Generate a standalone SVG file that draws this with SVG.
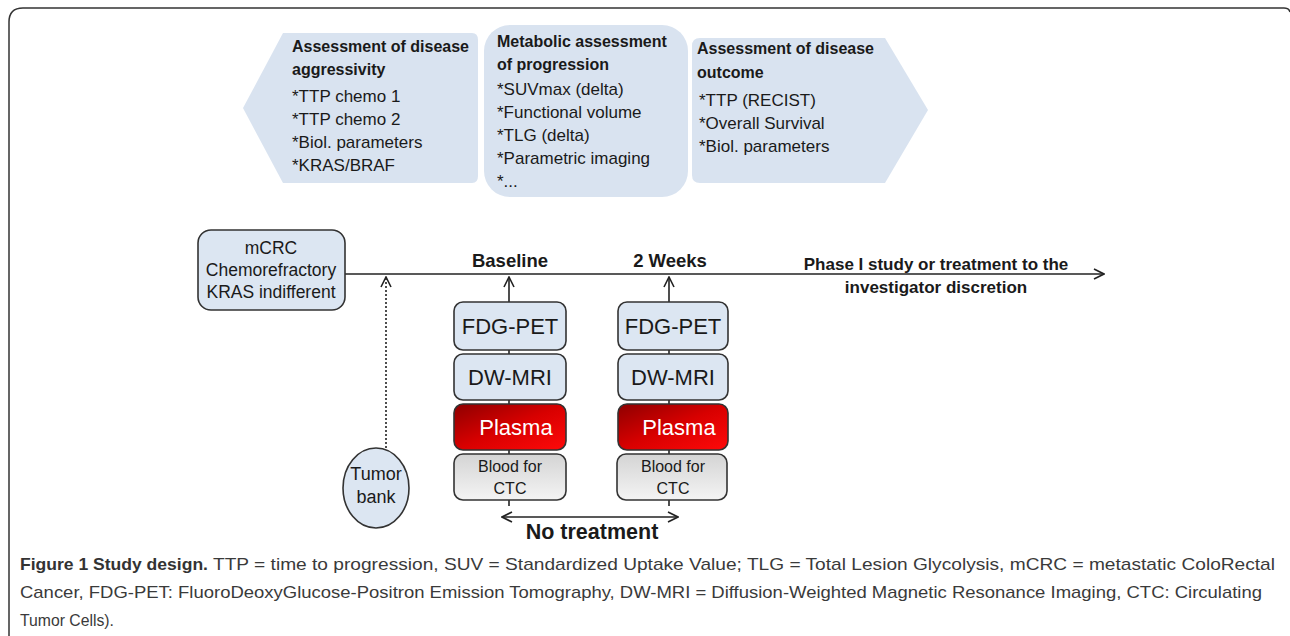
<svg xmlns="http://www.w3.org/2000/svg" width="1290" height="636" viewBox="0 0 1290 636">
<style>
text{font-family:"Liberation Sans","Noto Sans",sans-serif;fill:#1a1a1a}
.hb{font-weight:bold;font-size:16px}
.it{font-size:17px}
.blue{fill:#dce6f2;stroke:#333;stroke-width:1.6}
.top{fill:#d9e3f0}
.c{text-anchor:middle}
.box{font-size:22px}
.line{stroke:#222;stroke-width:1.6;fill:none}
.cap{font-size:17px;fill:#3a3a3a}
</style>
<defs>
<marker id="open" viewBox="0 0 12 12" refX="11" refY="6" markerWidth="12" markerHeight="12" markerUnits="userSpaceOnUse" orient="auto-start-reverse">
<path d="M1 1 L11 6 L1 11" fill="none" stroke="#222" stroke-width="1.6"/>
</marker>
<linearGradient id="red" x1="0" y1="0" x2="1" y2="1">
<stop offset="0" stop-color="#8e0000"/>
<stop offset="0.5" stop-color="#d80000"/>
<stop offset="1" stop-color="#ff0a0a"/>
</linearGradient>
<linearGradient id="gray" x1="0" y1="0" x2="0" y2="1">
<stop offset="0" stop-color="#d4d4d4"/>
<stop offset="1" stop-color="#f4f4f4"/>
</linearGradient>
</defs>

<path d="M9 636 V22 Q9 8 23 8 H1284 Q1289 8 1290 12" fill="none" stroke="#333" stroke-width="1.5"/>

<g id="aggressivity">
<path class="top" d="M243 108 L283 33 H472 Q478 33 478 40 V176 Q478 183 472 183 H283 Z"/>
<text class="hb" x="292" y="52">Assessment of disease</text>
<text class="hb" x="292" y="75">aggressivity</text>
<text class="it" x="292" y="102">*TTP chemo 1</text>
<text class="it" x="292" y="125">*TTP chemo 2</text>
<text class="it" x="292" y="148">*Biol. parameters</text>
<text class="it" x="292" y="171">*KRAS/BRAF</text>
</g>

<g id="metabolic">
<rect class="top" x="484" y="25" width="204" height="172" rx="26"/>
<text class="hb" x="497" y="47">Metabolic assessment</text>
<text class="hb" x="497" y="70">of progression</text>
<text class="it" x="497" y="95">*SUVmax (delta)</text>
<text class="it" x="497" y="118">*Functional volume</text>
<text class="it" x="497" y="141">*TLG (delta)</text>
<text class="it" x="497" y="164">*Parametric imaging</text>
<text class="it" x="497" y="187">*...</text>
</g>

<g id="outcome">
<path class="top" d="M700 38 H885 L928 110 L885 183 H700 Q692 183 692 175 V46 Q692 38 700 38 Z"/>
<text class="hb" x="697" y="54">Assessment of disease</text>
<text class="hb" x="697" y="78">outcome</text>
<text class="it" x="699" y="106">*TTP (RECIST)</text>
<text class="it" x="699" y="129">*Overall Survival</text>
<text class="it" x="699" y="152">*Biol. parameters</text>
</g>

<g id="connectors">
<line class="line" x1="345" y1="274" x2="1104" y2="274" marker-end="url(#open)"/>
<line class="line" x1="386" y1="452" x2="386" y2="277" stroke-dasharray="2 2" marker-end="url(#open)"/>
<line class="line" x1="509" y1="506" x2="509" y2="277" marker-end="url(#open)"/>
<line class="line" x1="669" y1="506" x2="669" y2="277" marker-end="url(#open)"/>
<line class="line" x1="502" y1="517" x2="678" y2="517" stroke-width="2.2" marker-start="url(#open)" marker-end="url(#open)"/>
</g>

<g id="mcrc">
<rect class="blue" x="198" y="230" width="147" height="80" rx="13"/>
<text class="c" x="271" y="254" style="font-size:17.5px">mCRC</text>
<text class="c" x="271" y="276" style="font-size:17.5px">Chemorefractory</text>
<text class="c" x="271" y="298" style="font-size:17.5px">KRAS indifferent</text>
</g>

<g id="tumor-bank">
<ellipse class="blue" cx="376" cy="488" rx="33" ry="40"/>
<text class="c" x="376" y="480" style="font-size:18px">Tumor</text>
<text class="c" x="376" y="503" style="font-size:18px">bank</text>
</g>

<g id="labels">
<text class="hb c" x="510" y="267" style="font-size:18.5px">Baseline</text>
<text class="hb c" x="670" y="267" style="font-size:18.5px">2 Weeks</text>
<text class="hb c" x="936" y="270" style="font-size:17px">Phase I study or treatment to the</text>
<text class="hb c" x="936" y="293" style="font-size:17px">investigator discretion</text>
<text class="c" x="592" y="539" style="font-weight:bold;font-size:21.5px">No treatment</text>
</g>

<g id="baseline-fdg"><rect class="blue" x="454" y="302" width="112" height="48" rx="9"/><text class="box c" x="510" y="334">FDG-PET</text></g>
<g id="baseline-dw"><rect class="blue" x="454" y="354" width="112" height="46" rx="9"/><text class="box c" x="510" y="385">DW-MRI</text></g>
<g id="baseline-plasma"><rect x="454" y="404" width="112" height="46" rx="9" fill="url(#red)" stroke="#333" stroke-width="1.6"/><text class="box c" x="516" y="435" style="fill:#fff">Plasma</text></g>
<g id="baseline-blood"><rect x="454" y="454" width="112" height="46" rx="9" fill="url(#gray)" stroke="#333" stroke-width="1.6"/><text class="c" x="510" y="472" style="font-size:16px">Blood for</text><text class="c" x="510" y="494" style="font-size:16px">CTC</text></g>

<g id="week2-fdg"><rect class="blue" x="618" y="302" width="110" height="48" rx="9"/><text class="box c" x="673" y="334">FDG-PET</text></g>
<g id="week2-dw"><rect class="blue" x="618" y="354" width="110" height="46" rx="9"/><text class="box c" x="673" y="385">DW-MRI</text></g>
<g id="week2-plasma"><rect x="618" y="404" width="110" height="46" rx="9" fill="url(#red)" stroke="#333" stroke-width="1.6"/><text class="box c" x="679" y="435" style="fill:#fff">Plasma</text></g>
<g id="week2-blood"><rect x="617" y="454" width="110" height="46" rx="9" fill="url(#gray)" stroke="#333" stroke-width="1.6"/><text class="c" x="673" y="472" style="font-size:16px">Blood for</text><text class="c" x="673" y="494" style="font-size:16px">CTC</text></g>

<g id="caption">
<text class="cap" x="20" y="570" style="font-weight:bold;fill:#333" textLength="188" lengthAdjust="spacingAndGlyphs">Figure 1 Study design.</text>
<text class="cap" x="213" y="570" textLength="1062" lengthAdjust="spacingAndGlyphs">TTP = time to progression, SUV = Standardized Uptake Value; TLG = Total Lesion Glycolysis, mCRC = metastatic ColoRectal</text>
<text class="cap" x="20" y="598" textLength="1242" lengthAdjust="spacingAndGlyphs">Cancer, FDG-PET: FluoroDeoxyGlucose-Positron Emission Tomography, DW-MRI = Diffusion-Weighted Magnetic Resonance Imaging, CTC: Circulating</text>
<text class="cap" x="20" y="626" textLength="94" lengthAdjust="spacingAndGlyphs">Tumor Cells).</text>
</g>
</svg>
